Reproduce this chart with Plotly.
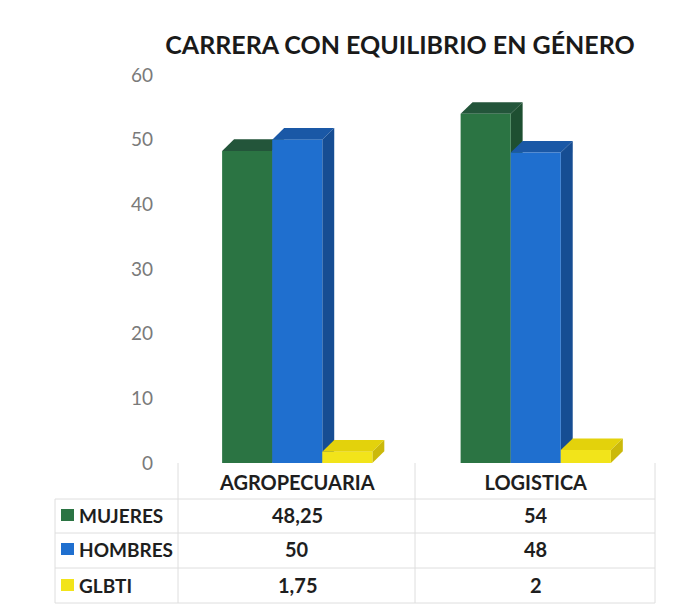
import plotly.graph_objects as go

# ---- data ----
categories = ["AGROPECUARIA", "LOGISTICA"]
series_names = ["MUJERES", "HOMBRES", "GLBTI"]
mujeres = [48.25, 54]
hombres = [50, 48]
glbti = [1.75, 2]
value_labels = {
    "MUJERES": ["48,25", "54"],
    "HOMBRES": ["50", "48"],
    "GLBTI": ["1,75", "2"],
}
y_ticks = [0, 10, 20, 30, 40, 50, 60]

series_values = [mujeres, hombres, glbti]
front_colors = ["#2b7443", "#1f6fcf", "#f2e41a"]
top_colors = ["#23553a", "#1a58a6", "#e3d20c"]
side_colors = ["#1e4f31", "#164d93", "#cbb90a"]

W, H = 686, 614
PL, PR, PT, PB = 178, 655, 75, 463  # plot area in pixels
def px(X):
    return (X - PL) / (PR - PL)
def py(Y):
    return (PB - Y) / (PB - PT)

BARGAP = 0.37
n = len(series_names)
bw = (1 - BARGAP) / n
DX = 0.05   # depth in x units
DY = 1.8    # depth in y units

fig = go.Figure()
shapes = []
for i, (name, vals) in enumerate(zip(series_names, series_values)):
    fig.add_trace(go.Bar(
        name=name, x=list(range(len(categories))), y=vals,
        marker=dict(color=front_colors[i], line=dict(width=0)),
        showlegend=False, hoverinfo="skip",
    ))
    for c, v in enumerate(vals):
        x0 = c - (1 - BARGAP) / 2 + i * bw
        x1 = x0 + bw
        # top face
        shapes.append(dict(
            type="path", xref="x", yref="y", layer="between",
            path=f"M{x0},{v} L{x1},{v} L{x1+DX},{v+DY} L{x0+DX},{v+DY} Z",
            fillcolor=top_colors[i], line=dict(width=0)))
        # side face
        shapes.append(dict(
            type="path", xref="x", yref="y", layer="between",
            path=f"M{x1},0 L{x1},{v} L{x1+DX},{v+DY} L{x1+DX},{DY} Z",
            fillcolor=side_colors[i], line=dict(width=0)))

# table grid lines
grid_col = "#dedede"
for Y in [499, 533, 568, 603]:
    shapes.append(dict(type="line", xref="paper", yref="paper",
                       x0=px(55), x1=px(655), y0=py(Y), y1=py(Y),
                       line=dict(color=grid_col, width=1)))
for X in [55, 178, 415, 655]:
    top = 463 if X != 55 else 499
    shapes.append(dict(type="line", xref="paper", yref="paper",
                       x0=px(X), x1=px(X), y0=py(top), y1=py(603),
                       line=dict(color=grid_col, width=1)))

annotations = []
row_Y = [515, 549, 585]
for i, name in enumerate(series_names):
    Yc = row_Y[i]
    shapes.append(dict(type="rect", xref="paper", yref="paper",
                       x0=px(61), x1=px(74), y0=py(Yc + 6), y1=py(Yc - 6),
                       fillcolor=front_colors[i], line=dict(width=0)))
    annotations.append(dict(
        xref="paper", yref="paper", x=px(77), y=py(Yc),
        xanchor="left", yanchor="middle", showarrow=False,
        text=f"<b>{name}</b>",
        font=dict(family="Lato", size=19, color="#1e1e1e")))
    for c in range(len(categories)):
        annotations.append(dict(
            xref="x", yref="paper", x=c, y=py(Yc),
            xanchor="center", yanchor="middle", showarrow=False,
            text=f"<b>{value_labels[name][c]}</b>",
            font=dict(family="Lato", size=20, color="#1e1e1e")))

fig.update_layout(
    width=W, height=H,
    margin=dict(l=PL, r=W - PR, t=PT, b=H - PB),
    paper_bgcolor="white", plot_bgcolor="white",
    barmode="group", bargap=BARGAP, bargroupgap=0,
    title=dict(text="<b>CARRERA CON EQUILIBRIO EN GÉNERO</b>",
               x=400 / W, xref="container", xanchor="center",
               y=1 - 45 / H, yref="container", yanchor="middle",
               font=dict(family="Lato", size=25, color="#1a1a1a")),
    xaxis=dict(
        tickmode="array", tickvals=list(range(len(categories))),
        ticktext=[f"<b>{c}</b>" for c in categories],
        range=[-0.5, len(categories) - 0.5],
        showgrid=False, zeroline=False, showline=False, ticks="",
        ticklabelstandoff=6,
        tickfont=dict(family="Lato", size=20, color="#1e1e1e"),
    ),
    yaxis=dict(
        range=[0, 60], tickvals=y_ticks,
        showgrid=False, zeroline=False, showline=False, ticks="",
        ticklabelstandoff=24,
        tickfont=dict(family="Lato", size=19, color="#7a7a7a"),
    ),
    shapes=shapes,
    annotations=annotations,
)

fig.write_html("out.html",
               config={"displayModeBar": False},
               post_script="document.body.style.margin='0';document.body.style.padding='0';")
